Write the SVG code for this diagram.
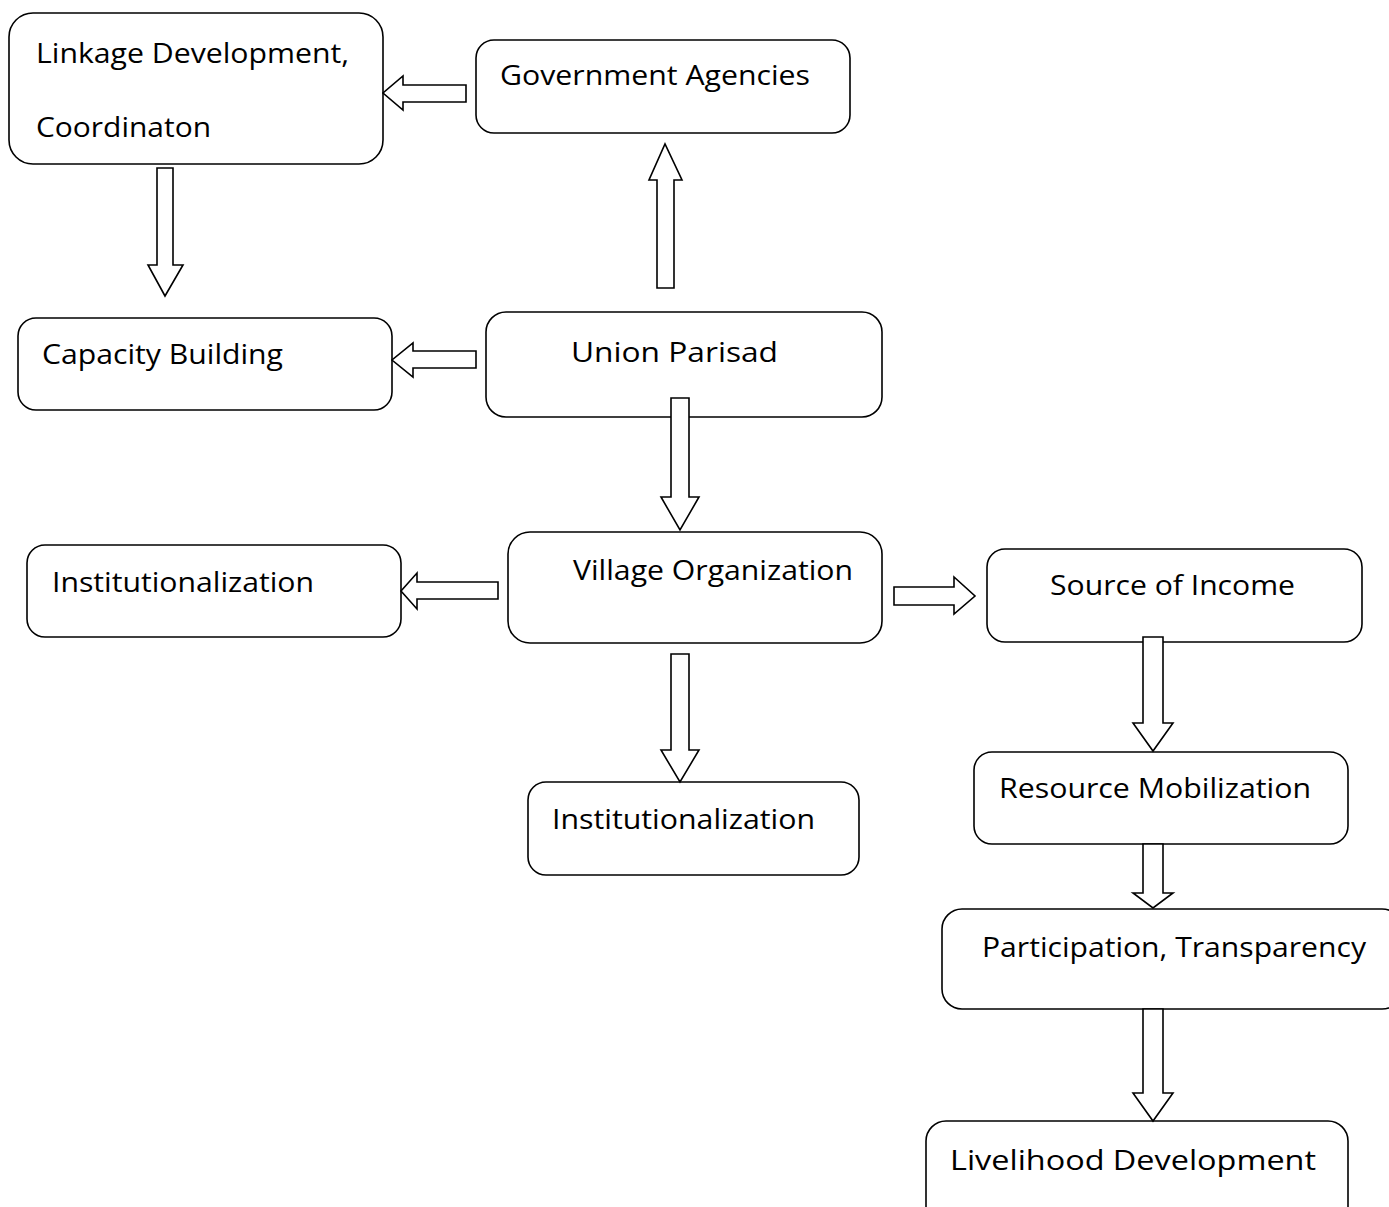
<svg xmlns="http://www.w3.org/2000/svg" width="1389" height="1207" viewBox="0 0 1389 1207">
<style>
.box{fill:#fff;stroke:#000;stroke-width:1.6}
.arr{fill:#fff;stroke:#000;stroke-width:1.6;stroke-linejoin:miter}
text{font-family:"Open Sans","Noto Sans","Liberation Sans",sans-serif;font-size:28px;fill:#000}
</style>
<rect width="1389" height="1207" fill="#fff"/>
<g id="linkage">
<rect class="box" x="9" y="13" width="374" height="151" rx="24"/>
<text x="36" y="63" textLength="313" lengthAdjust="spacingAndGlyphs">Linkage Development,</text>
<text x="36" y="137" textLength="175" lengthAdjust="spacingAndGlyphs">Coordinaton</text>
</g>
<g id="government">
<rect class="box" x="476" y="40" width="374" height="93" rx="18"/>
<text x="500" y="85" textLength="310" lengthAdjust="spacingAndGlyphs">Government Agencies</text>
</g>
<g id="capacity">
<rect class="box" x="18" y="318" width="374" height="92" rx="18"/>
<text x="42" y="364" textLength="241" lengthAdjust="spacingAndGlyphs">Capacity Building</text>
</g>
<g id="union">
<rect class="box" x="486" y="312" width="396" height="105" rx="20"/>
<text x="571" y="362" font-size="30" textLength="207" lengthAdjust="spacingAndGlyphs">Union Parisad</text>
</g>
<g id="inst-left">
<rect class="box" x="27" y="545" width="374" height="92" rx="18"/>
<text x="52" y="592" textLength="262" lengthAdjust="spacingAndGlyphs">Institutionalization</text>
</g>
<g id="village">
<rect class="box" x="508" y="532" width="374" height="111" rx="22"/>
<text x="573" y="580" textLength="280" lengthAdjust="spacingAndGlyphs">Village Organization</text>
</g>
<g id="source">
<rect class="box" x="987" y="549" width="375" height="93" rx="18"/>
<text x="1050" y="595" textLength="245" lengthAdjust="spacingAndGlyphs">Source of Income</text>
</g>
<g id="inst-bottom">
<rect class="box" x="528" y="782" width="331" height="93" rx="18"/>
<text x="552" y="829" textLength="263" lengthAdjust="spacingAndGlyphs">Institutionalization</text>
</g>
<g id="resource">
<rect class="box" x="974" y="752" width="374" height="92" rx="18"/>
<text x="999" y="798" textLength="312" lengthAdjust="spacingAndGlyphs">Resource Mobilization</text>
</g>
<g id="participation">
<rect class="box" x="942" y="909" width="460" height="100" rx="20"/>
<text x="982" y="957" textLength="384" lengthAdjust="spacingAndGlyphs">Participation, Transparency</text>
</g>
<g id="livelihood">
<rect class="box" x="926" y="1121" width="422" height="110" rx="20"/>
<text x="950" y="1170" textLength="366" lengthAdjust="spacingAndGlyphs">Livelihood Development</text>
</g>
<g id="connectors">
<polygon class="arr" points="466,85 403,85 403,76 383,93 403,110 403,102 466,102"/>
<polygon class="arr" points="157,168 173,168 173,265 183,265 165,296 148,265 157,265"/>
<polygon class="arr" points="657,288 674,288 674,180 682,180 665,144 649,180 657,180"/>
<polygon class="arr" points="476,351 413,351 413,343 392,360 413,377 413,368 476,368"/>
<polygon class="arr" points="671,398 689,398 689,497 699,497 680,530 661,497 671,497"/>
<polygon class="arr" points="498,582 417,582 417,573 401,591 417,609 417,599 498,599"/>
<polygon class="arr" points="894,587 954,587 954,577 975,596 954,614 954,605 894,605"/>
<polygon class="arr" points="671,654 689,654 689,750 699,750 680,782 661,750 671,750"/>
<polygon class="arr" points="1143,637 1163,637 1163,723 1173,723 1153,751 1133,723 1143,723"/>
<polygon class="arr" points="1143,844 1163,844 1163,893 1173,893 1153,908 1133,893 1143,893"/>
<polygon class="arr" points="1143,1009 1163,1009 1163,1093 1173,1093 1153,1121 1133,1093 1143,1093"/>
</g>
</svg>
